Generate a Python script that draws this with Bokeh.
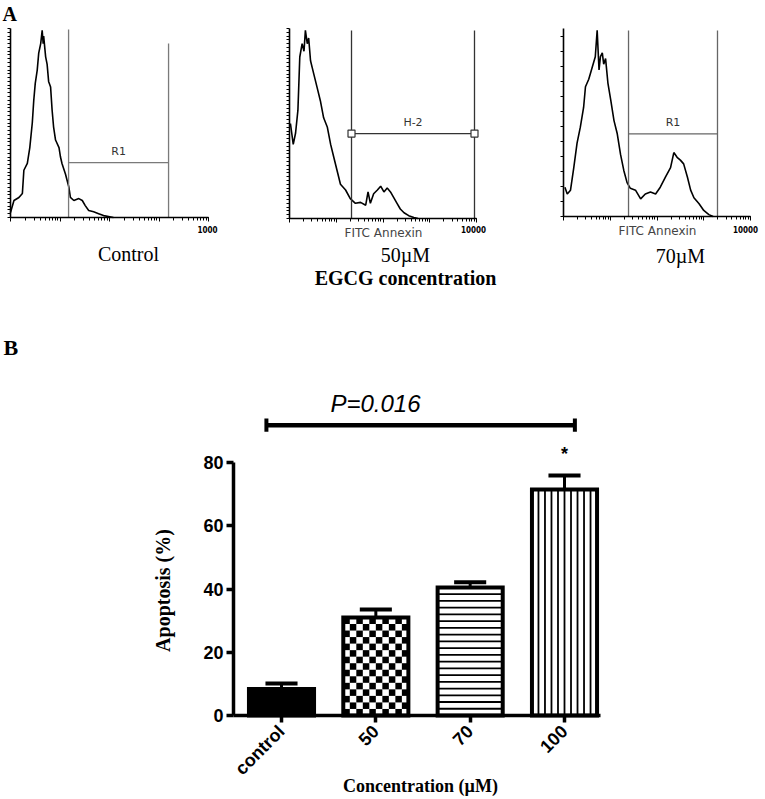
import math
from math import pi
from bokeh.plotting import figure
from bokeh.layouts import column, row
from bokeh.models import (Range1d, Label, FixedTicker, SingleIntervalTicker, LogTicker,
                          CustomJSTickFormatter)
from bokeh.embed import file_html
from bokeh.resources import INLINE

# ---------------- Panel A data (x = decades of FITC Annexin, y = relative counts) ----------------
ctrl_dec = [0.0, 0.07, 0.17, 0.24, 0.27, 0.34, 0.39, 0.44, 0.47, 0.50, 0.54, 0.57, 0.61, 0.64,
            0.66, 0.67, 0.71, 0.74, 0.77, 0.81, 0.84, 0.87, 0.91, 0.98, 1.01, 1.04, 1.11, 1.18,
            1.21, 1.28, 1.38, 1.45, 1.51, 1.58, 1.68, 1.78, 1.88, 1.98, 2.08]
ctrl_cnt = [2.6, 9, 10.6, 12.7, 25, 28.6, 37, 50, 62, 71, 78, 87, 92, 99,
            92, 96, 85, 81, 72, 69, 57, 48, 41, 37, 32, 28.6, 23, 16,
            10.6, 9, 10, 9, 6.3, 3.7, 3, 2, 1, 0.5, 0]

egcg50_dec = [0.02, 0.08, 0.13, 0.18, 0.22, 0.27, 0.31, 0.34, 0.38, 0.41, 0.45, 0.49, 0.52, 0.59,
              0.66, 0.73, 0.81, 0.88, 0.95, 1.02, 1.09, 1.2, 1.3, 1.41, 1.52, 1.63, 1.68, 1.73,
              1.8, 1.88, 1.95, 2.02, 2.09, 2.16, 2.23, 2.3, 2.37, 2.45, 2.55, 2.66, 2.75]
egcg50_cnt = [50, 39, 45, 57, 85, 92, 88, 99, 92, 95, 83, 79, 76, 69,
              62, 53, 48, 39, 32, 25, 18, 15, 10.5, 8, 8.5, 7, 14, 8,
              13, 15, 17, 14, 16, 14, 11, 8, 5, 3, 1.5, 0.5, 0]

egcg70_dec = [0.03, 0.08, 0.15, 0.22, 0.29, 0.36, 0.43, 0.47, 0.54, 0.61, 0.68, 0.72, 0.76, 0.79,
              0.83, 0.86, 0.9, 0.95, 1.01, 1.08, 1.15, 1.22, 1.29, 1.36, 1.43, 1.54, 1.65, 1.75,
              1.86, 1.97, 2.07, 2.18, 2.29, 2.36, 2.43, 2.5, 2.57, 2.65, 2.72, 2.79, 2.9, 3.0,
              3.11, 3.2]
egcg70_cnt = [15.6, 12, 14, 26, 39, 47.5, 58, 69, 73, 79, 85, 99, 78, 85,
              87, 81, 84, 71, 62, 51, 44, 33, 24.5, 18, 15, 14, 9.4, 12,
              13, 12, 15.6, 21, 26, 34, 31.5, 30, 28, 21, 14, 10, 6.8, 3.2,
              1, 0]

# gates: (low, high) intensity, top of the two vertical markers, level of the horizontal marker
ctrl_gate = (14.9, 1560)
ctrl_gate_tops = [99.5, 92]
ctrl_gate_level = 29
egcg50_gate = (21.2, 9060)
egcg50_gate_tops = [99, 99]
egcg50_gate_level = 44.7
egcg70_gate = (24.6, 1968)
egcg70_gate_tops = [99, 99]
egcg70_gate_level = 44

# ---------------- Panel B data ----------------
cats = ["control", "50", "70", "100"]
apoptosis = [8.4, 31.0, 40.5, 71.5]
sem = [1.7, 2.5, 1.6, 4.4]
y_ticks = [0, 20, 40, 60, 80]
bracket_x = [-0.16, 3.11]
bracket_y = 91.8
p_text = "P=0.016"

SANS = "Liberation Sans"
SERIF = "Liberation Serif"
GATE_FONT = "DejaVu Sans"
COND = "DejaVu Sans Condensed"

blank = CustomJSTickFormatter(code="return ''")


def geometry(w, h, ox, oy, xpx, xval, ypx, yval, logx=False):
    """Ranges so that the plot frame fills the canvas and the axes land on given page pixels."""
    f = math.log10 if logx else (lambda v: v)
    u0, u1 = f(xval[0]), f(xval[1])
    kx = (xpx[1] - xpx[0]) / (u1 - u0)
    ul = u0 + (ox - xpx[0]) / kx
    ur = u0 + (ox + w - xpx[0]) / kx
    ky = (ypx[0] - ypx[1]) / (yval[1] - yval[0])
    yb = yval[0] - (oy + h - ypx[0]) / ky
    yt = yval[0] + (ypx[0] - oy) / ky

    def to_data(px, py):
        u = u0 + (px - xpx[0]) / kx
        return (10 ** u if logx else u), yval[0] + (ypx[0] - py) / ky

    xr = Range1d(10 ** ul, 10 ** ur) if logx else Range1d(ul, ur)
    return xr, Range1d(yb, yt), to_data


def add_text(p, to_data, px, py, text, font, size, style="normal", color="black",
             align="center", baseline="middle", angle=0):
    x, y = to_data(px, py)
    p.add_layout(Label(x=x, y=y, text=text, text_font=font, text_font_size=size,
                       text_font_style=style, text_color=color, text_align=align,
                       text_baseline=baseline, angle=angle))


def bare_figure(w, h, xr, yr, logx=False):
    p = figure(width=w, height=h, x_axis_type="log" if logx else "linear", x_range=xr,
               y_range=yr, output_backend="svg", toolbar_location=None,
               min_border_left=0, min_border_right=0, min_border_top=0, min_border_bottom=0)
    p.outline_line_color = None
    p.grid.visible = False
    return p


def hist_panel(w, ox, ax_left, ax_right, ax_top, ax_base, dec, cnt, gate, gate_tops, gate_level,
               gate_label, gate_color, y_interval, squares=False):
    xr, yr, to_data = geometry(w, 300, ox, 0, (ax_left, ax_right), (1, 1e4),
                               (ax_base, ax_top), (0, 100), logx=True)
    p = bare_figure(w, 300, xr, yr, logx=True)
    xs = [10 ** d for d in dec]
    p.line(xs, cnt, line_color="black", line_width=1.6)
    lo, hi = gate
    p.segment(x0=[lo, hi], y0=[0, 0], x1=[lo, hi], y1=gate_tops, line_color=gate_color,
              line_width=1.3)
    p.segment(x0=[lo], y0=[gate_level], x1=[hi], y1=[gate_level], line_color=gate_color,
              line_width=1.3)
    if squares:
        p.scatter([lo, hi], [gate_level, gate_level], marker="square", size=7,
                  fill_color="white", line_color=gate_color, line_width=1.2)
    mid = (lo * hi) ** 0.5
    p.add_layout(Label(x=mid, y=gate_level, y_offset=11, text=gate_label, text_align="center",
                       text_baseline="middle", text_font=GATE_FONT, text_font_size="11px",
                       text_color="#333333"))
    xa = p.xaxis[0]
    xa.fixed_location = 0
    xa.bounds = (1, 1e4)
    xa.ticker = LogTicker(num_minor_ticks=10)
    xa.formatter = blank
    xa.axis_line_color = "black"
    xa.axis_line_width = 1.4
    xa.major_tick_out = 4
    xa.major_tick_in = 0
    xa.minor_tick_out = 3
    xa.minor_tick_in = 0
    xa.major_tick_line_color = "black"
    xa.minor_tick_line_color = "black"
    ya = p.yaxis[0]
    ya.fixed_location = 1
    ya.bounds = (0, 100)
    ya.ticker = SingleIntervalTicker(interval=y_interval, num_minor_ticks=0)
    ya.formatter = blank
    ya.axis_line_color = "black"
    ya.axis_line_width = 1.6
    ya.major_tick_out = 3
    ya.major_tick_in = 0
    ya.major_tick_line_color = "black"
    ya.minor_tick_line_color = None
    return p, to_data


h1, t1 = hist_panel(260, 0, 10, 208, 28, 217, ctrl_dec, ctrl_cnt, ctrl_gate, ctrl_gate_tops,
                    ctrl_gate_level, "R1", "#7a7a7a", 2)
h2, t2 = hist_panel(260, 260, 289, 476, 28, 218, egcg50_dec, egcg50_cnt, egcg50_gate,
                    egcg50_gate_tops, egcg50_gate_level, "H-2", "#333333", 2, squares=True)
h3, t3 = hist_panel(245, 520, 563, 750, 28, 216, egcg70_dec, egcg70_cnt, egcg70_gate,
                    egcg70_gate_tops, egcg70_gate_level, "R1", "#666666", 8)

add_text(h1, t1, 2, 13, "A", SERIF, "20px", "bold", align="left")
add_text(h1, t1, 207, 229, "1000", COND, "8px", "bold")
add_text(h1, t1, 128, 253, "Control", SERIF, "20px")

add_text(h2, t2, 383, 232, "FITC Annexin", GATE_FONT, "12px", color="#444444")
add_text(h2, t2, 473, 229, "10000", COND, "8px", "bold")
add_text(h2, t2, 405, 254, "50\u00b5M", SERIF, "20px")
add_text(h2, t2, 405, 277, "EGCG concentration", SERIF, "20px", "bold")

add_text(h3, t3, 657, 230, "FITC Annexin", GATE_FONT, "12px", color="#444444")
add_text(h3, t3, 745, 229, "10000", COND, "8px", "bold")
add_text(h3, t3, 680, 255, "70\u00b5M", SERIF, "20px")

# ---------------- Panel B ----------------
idx = list(range(len(cats)))
bw = 0.69
xr, yr, tb = geometry(765, 499, 0, 300, (281, 564), (0, 3), (715, 462), (0, 80))
pb = bare_figure(765, 499, xr, yr)
x_axis_start = tb(233, 715)[0]
x_axis_end = tb(600, 715)[0]

fills = ["black", "white", "white", "white"]
pb.vbar(x=idx, top=apoptosis, width=bw, fill_color=fills, line_color=None)

# texture: checker for 50, horizontal lines for 70, vertical lines for 100
i50 = cats.index("50")
n_cols = 10
n_rows = round(apoptosis[i50] / 2.05)
cw = bw / n_cols
ch = apoptosis[i50] / n_rows
cx, cy = [], []
for r in range(n_rows):
    for c in range(n_cols):
        if (r + c) % 2 == 0:
            cx.append(i50 - bw / 2 + (c + 0.5) * cw)
            cy.append((r + 0.5) * ch)
pb.rect(cx, cy, width=cw, height=ch, fill_color="black", line_color=None)

i70 = cats.index("70")
n_h = round(apoptosis[i70] / 2.1)
hy = [k * apoptosis[i70] / n_h for k in range(1, n_h)]
pb.segment(x0=[i70 - bw / 2] * len(hy), y0=hy, x1=[i70 + bw / 2] * len(hy), y1=hy,
           line_color="black", line_width=1.8)

i100 = cats.index("100")
n_v = 10
vx = [i100 - bw / 2 + k * bw / n_v for k in range(1, n_v)]
pb.segment(x0=vx, y0=[0] * len(vx), x1=vx, y1=[apoptosis[i100]] * len(vx),
           line_color="black", line_width=1.8)

pb.vbar(x=idx, top=apoptosis, width=bw, fill_color=None, line_color="black", line_width=4,
        line_join="miter")

# error bars (upper only)
tops = [a + s for a, s in zip(apoptosis, sem)]
pb.segment(x0=idx, y0=apoptosis, x1=idx, y1=tops, line_color="black", line_width=3)
cap = 0.17
pb.segment(x0=[i - cap for i in idx], y0=tops, x1=[i + cap for i in idx], y1=tops,
           line_color="black", line_width=4)

# significance bracket
pb.segment(x0=[bracket_x[0]], y0=[bracket_y], x1=[bracket_x[1]], y1=[bracket_y],
           line_color="black", line_width=4.5)
pb.segment(x0=bracket_x, y0=[bracket_y - 2.1] * 2, x1=bracket_x, y1=[bracket_y + 2.1] * 2,
           line_color="black", line_width=4)
add_text(pb, tb, 375, 403, p_text, SANS, "24px", "italic")
pb.add_layout(Label(x=i100, y=tops[i100], y_offset=21, text="*", text_align="center",
                    text_baseline="middle", text_font=SANS, text_font_size="18px",
                    text_font_style="bold", text_color="black"))

ya = pb.yaxis[0]
ya.fixed_location = x_axis_start
ya.ticker = FixedTicker(ticks=y_ticks)
ya.bounds = (0, 80)
ya.axis_line_width = 3.5
ya.major_tick_line_width = 3.5
ya.major_tick_out = 7
ya.major_tick_in = 0
ya.minor_tick_line_color = None
ya.major_label_text_font = SANS
ya.major_label_text_font_style = "bold"
ya.major_label_text_font_size = "18px"
ya.major_label_text_color = "black"
ya.major_label_standoff = 3

xa = pb.xaxis[0]
xa.fixed_location = 0
xa.bounds = (x_axis_start, x_axis_end)
xa.ticker = FixedTicker(ticks=idx)
xa.major_label_overrides = {i: c for i, c in zip(idx, cats)}
xa.major_label_orientation = pi / 4
xa.axis_line_width = 3.5
xa.major_tick_line_width = 3.5
xa.major_tick_out = 7
xa.major_tick_in = 0
xa.minor_tick_line_color = None
xa.major_label_text_font = SANS
xa.major_label_text_font_style = "bold"
xa.major_label_text_font_size = "18px"
xa.major_label_text_color = "black"
xa.major_label_standoff = 6

add_text(pb, tb, 3, 347, "B", SERIF, "22px", "bold", align="left")
add_text(pb, tb, 162, 590, "Apoptosis (%)", SERIF, "20px", "bold", angle=pi / 2)
add_text(pb, tb, 420, 785, "Concentration (\u00b5M)", SERIF, "18px", "bold")

layout = column(row(h1, h2, h3), pb)
open("out.html", "w").write(file_html(layout, INLINE))
